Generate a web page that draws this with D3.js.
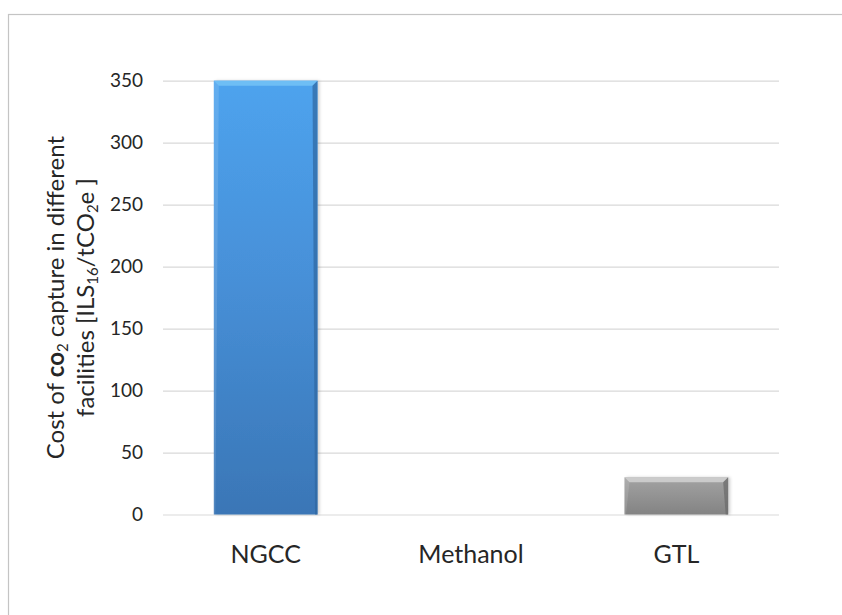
<!DOCTYPE html>
<html>
<head>
<meta charset="utf-8">
<script src="https://cdn.jsdelivr.net/npm/d3@7"></script>
<style>
  html, body { margin: 0; padding: 0; background: #fff; }
  svg { display: block; }
  text { font-family: Lato, "Open Sans", sans-serif; fill: #262626; }
</style>
</head>
<body>
<svg id="chart" width="842" height="615"></svg>
<script>
// Cost of CO2 capture per facility type
const categories = ["NGCC", "Methanol", "GTL"];
const costValues = [350, 0, 30];
const yTicks = [0, 50, 100, 150, 200, 250, 300, 350];

const svg = d3.select("#chart");
const W = 842, H = 615;
const plot = { left: 163, right: 779, top: 80.7, bottom: 514.5 };

// outer frame
svg.append("rect")
  .attr("x", 8.5).attr("y", 14.5)
  .attr("width", W + 20).attr("height", H + 20)
  .attr("fill", "none").attr("stroke", "#c4c4c4").attr("stroke-width", 1.2);

const defs = svg.append("defs");
const grad = (id, stops) => {
  const g = defs.append("linearGradient").attr("id", id)
    .attr("x1", 0).attr("y1", 0).attr("x2", 0).attr("y2", 1);
  stops.forEach(([o, c]) => g.append("stop").attr("offset", o).attr("stop-color", c));
};
grad("blueFill", [[0, "#4ea3ee"], [0.45, "#4790d8"], [1, "#3a76b6"]]);
grad("grayFill", [[0, "#a3a3a3"], [1, "#838383"]]);
const shadow = defs.append("filter").attr("id", "barShadow")
  .attr("x", "-10%").attr("y", "-10%").attr("width", "130%").attr("height", "120%");
shadow.append("feDropShadow").attr("dx", 2).attr("dy", 0).attr("stdDeviation", 1.5)
  .attr("flood-color", "#000").attr("flood-opacity", 0.18);

const x = d3.scaleBand().domain(categories).range([plot.left, plot.right])
  .paddingInner(0.495).paddingOuter(0.2475);
const y = d3.scaleLinear().domain([0, 350]).range([plot.bottom, plot.top]);

// value axis with gridlines
const yAxis = svg.append("g")
  .attr("transform", `translate(${plot.left},0)`)
  .call(d3.axisLeft(y).tickValues(yTicks).tickSize(-(plot.right - plot.left)).tickPadding(20));
yAxis.select(".domain").remove();
yAxis.selectAll(".tick line").attr("stroke", "#d9d9d9").attr("stroke-width", 1.2);
yAxis.selectAll(".tick text").attr("font-size", 19).attr("fill", "#262626")
  .attr("font-family", "Lato, sans-serif");

// category axis
const xAxis = svg.append("g")
  .attr("transform", `translate(0,${plot.bottom})`)
  .call(d3.axisBottom(x).tickSize(0).tickPadding(31));
xAxis.select(".domain").remove();
xAxis.selectAll(".tick text").attr("font-size", 25).attr("fill", "#262626")
  .attr("font-family", "Lato, sans-serif");

// bars with bevelled edges
const palette = {
  NGCC: { fill: "url(#blueFill)", top: "#74c3f6", side: "#2f679f" },
  Methanol: { fill: "url(#blueFill)", top: "#74c3f6", side: "#2f679f" },
  GTL: { fill: "url(#grayFill)", top: "#d2d2d2", side: "#6a6a6a" }
};
const data = categories.map((c, i) => ({ c, v: costValues[i] }));
const bars = svg.append("g").selectAll("g").data(data.filter(d => d.v > 0)).join("g");
bars.append("rect")
  .attr("x", d => x(d.c)).attr("y", d => y(d.v))
  .attr("width", x.bandwidth()).attr("height", d => y(0) - y(d.v))
  .attr("fill", d => palette[d.c].fill)
  .attr("filter", "url(#barShadow)");
const bev = 5;
bars.append("path")
  .attr("d", d => {
    const x0 = x(d.c), x1 = x0 + x.bandwidth(), t = y(d.v);
    return `M${x0},${t}L${x1},${t}L${x1 - bev},${t + bev}L${x0 + bev},${t + bev}Z`;
  })
  .attr("fill", d => palette[d.c].top).attr("opacity", 0.85);
bars.append("path")
  .attr("d", d => {
    const x1 = x(d.c) + x.bandwidth(), t = y(d.v), b = y(0);
    return `M${x1},${t}L${x1},${b}L${x1 - 2.5},${b}L${x1 - bev},${t + bev}Z`;
  })
  .attr("fill", d => palette[d.c].side).attr("opacity", 0.7);
bars.append("path")
  .attr("d", d => {
    const x0 = x(d.c), t = y(d.v), b = y(0);
    return `M${x0},${t}L${x0 + bev},${t + bev}L${x0 + 1.5},${b}L${x0},${b}Z`;
  })
  .attr("fill", "#ffffff").attr("opacity", 0.12);

// rotated axis title, two lines
const title = svg.append("text")
  .attr("transform", `translate(0,${(plot.top + plot.bottom) / 2}) rotate(-90)`)
  .attr("text-anchor", "middle").attr("font-size", 24);
const l1 = title.append("tspan").attr("x", 0).attr("y", 64);
l1.append("tspan").text("Cost of ");
l1.append("tspan").attr("font-weight", "bold").text("co");
l1.append("tspan").attr("font-size", 15).attr("dy", 4).text("2");
l1.append("tspan").attr("dy", -4).text(" capture in different");
const l2 = title.append("tspan").attr("x", 0).attr("y", 94);
l2.append("tspan").text("facilities [ILS");
l2.append("tspan").attr("font-size", 15).attr("dy", 4).text("16");
l2.append("tspan").attr("dy", -4).text("/tCO");
l2.append("tspan").attr("font-size", 15).attr("dy", 4).text("2");
l2.append("tspan").attr("dy", -4).text("e ]");
</script>
</body>
</html>
